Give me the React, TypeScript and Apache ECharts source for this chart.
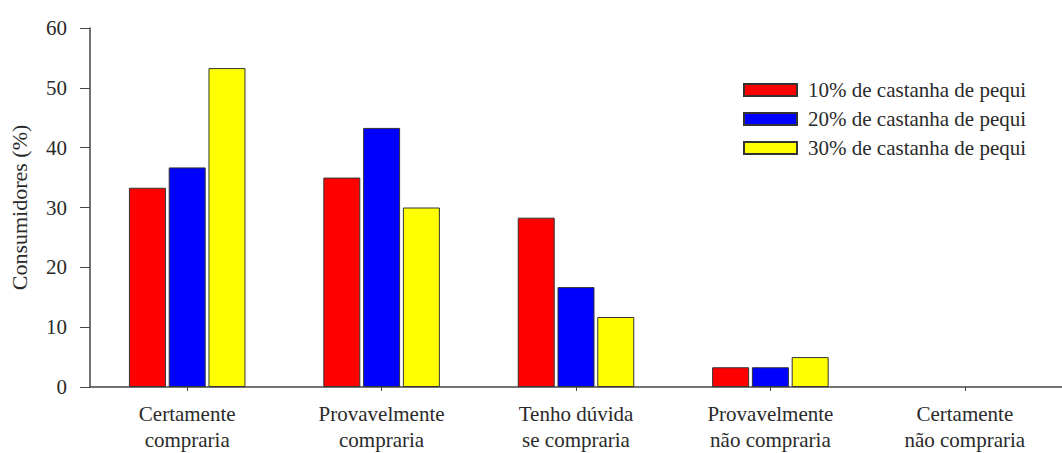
import React, { useEffect, useRef } from "react";
import * as echarts from "echarts";

// Purchase intention categories (two-line axis labels)
const categories = [
  "Certamente\ncompraria",
  "Provavelmente\ncompraria",
  "Tenho dúvida\nse compraria",
  "Provavelmente\nnão compraria",
  "Certamente\nnão compraria",
];

const seriesNames = [
  "10% de castanha de pequi",
  "20% de castanha de pequi",
  "30% de castanha de pequi",
];

// Share of consumers (%) for each formulation
const pequi10 = [33.3, 35.0, 28.3, 3.3, 0];
const pequi20 = [36.7, 43.3, 16.7, 3.3, 0];
const pequi30 = [53.3, 30.0, 11.7, 5.0, 0];

const yTicks = [0, 10, 20, 30, 40, 50, 60];

const colors = ["#ff0000", "#0000ff", "#ffff00"];
const FONT = "Liberation Serif";
const TEXT = "#2a2a2a";
const AXIS = "#444";

export default function App() {
  const ref = useRef<HTMLDivElement>(null);

  useEffect(() => {
    if (!ref.current) return;
    const chart = echarts.init(ref.current, undefined, { renderer: "svg" });
    const values = [pequi10, pequi20, pequi30];

    chart.setOption({
      animation: false,
      backgroundColor: "#ffffff",
      textStyle: { fontFamily: FONT, color: TEXT },
      grid: { left: 82, top: 28, width: 987, height: 359, containLabel: false },
      legend: {
        orient: "vertical",
        left: 743,
        top: 79,
        padding: 0,
        itemWidth: 53,
        itemHeight: 12,
        itemGap: 7,
        icon: "rect",
        data: seriesNames,
        textStyle: {
          fontFamily: FONT,
          fontSize: 21,
          color: TEXT,
          lineHeight: 22,
          padding: [0, 0, 0, 6],
        },
      },
      xAxis: {
        type: "category",
        data: categories,
        axisLine: { show: true, lineStyle: { color: AXIS, width: 1.5 } },
        axisTick: { show: true, alignWithLabel: true, length: 4, lineStyle: { color: AXIS } },
        axisLabel: {
          fontFamily: FONT,
          fontSize: 21,
          color: TEXT,
          lineHeight: 26,
          margin: 14,
          interval: 0,
        },
      },
      yAxis: {
        type: "value",
        min: yTicks[0],
        max: yTicks[yTicks.length - 1],
        interval: 10,
        name: "Consumidores (%)",
        nameLocation: "middle",
        nameGap: 60,
        nameTextStyle: { fontFamily: FONT, fontSize: 22, color: TEXT },
        axisLine: { show: true, lineStyle: { color: AXIS, width: 1.5 } },
        axisTick: { show: true, length: 10, lineStyle: { color: AXIS } },
        axisLabel: { fontFamily: FONT, fontSize: 21, color: TEXT, margin: 23 },
        splitLine: { show: false },
      },
      series: seriesNames.map((name, i) => ({
        name,
        type: "bar",
        // zero-height bars get no outline so nothing shows on the baseline
        data: values[i].map((v) =>
          v === 0 ? { value: v, itemStyle: { borderWidth: 0 } } : v
        ),
        barWidth: 37,
        barGap: "7.5%",
        itemStyle: { color: colors[i], borderColor: "#333", borderWidth: 1 },
      })),
    });

    return () => chart.dispose();
  }, []);

  return (
    <div
      ref={ref}
      style={{ position: "absolute", left: 0, top: 0, width: 1062, height: 453 }}
    />
  );
}
